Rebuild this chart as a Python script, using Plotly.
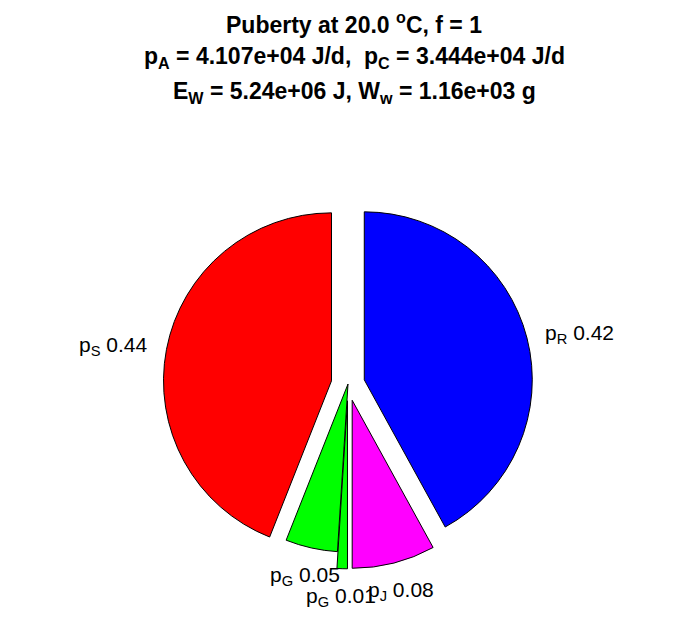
import numpy as np
import plotly.graph_objects as go

# ---- data ----
slice_labels = ["p<sub>R</sub>", "p<sub>J</sub>", "p<sub>G</sub>", "p<sub>G</sub>", "p<sub>S</sub>"]
slice_values = [0.42, 0.08, 0.01, 0.05, 0.44]
slice_colors = ["#0000ff", "#ff00ff", "#00ff00", "#00ff00", "#ff0000"]
slice_explode = [1, 1, 1, 0, 1]

title_lines = [
    "Puberty at 20.0 <sup>o</sup>C, f = 1",
    "p<sub>A</sub> = 4.107e+04 J/d,  p<sub>C</sub> = 3.444e+04 J/d",
    "E<sub>W</sub> = 5.24e+06 J, W<sub>w</sub> = 1.16e+03 g",
]

# ---- geometry / style ----
OFF = 8                    # page body margin
W, H = 696 - 2 * OFF, 618 - 2 * OFF
CX, CY = 348.0 - OFF, 384.0 - OFF   # pie centre in figure px (from top-left)
R = 168.0                  # pie radius in px
PULL = 0.1
FONT = "Liberation Sans, Arial, sans-serif"

half = R * (1 + PULL)
dom_x = [(CX - half) / W, (CX + half) / W]
dom_y = [1 - (CY + half) / H, 1 - (CY - half) / H]

fig = go.Figure()
fig.add_trace(go.Pie(
    values=slice_values,
    labels=[f"s{i}" for i in range(len(slice_values))],
    sort=False,
    direction="clockwise",
    rotation=0,
    pull=[PULL * e for e in slice_explode],
    marker=dict(colors=slice_colors, line=dict(color="black", width=1)),
    textinfo="none",
    hoverinfo="skip",
    showlegend=False,
    domain=dict(x=dom_x, y=dom_y),
))

annotations = []
total = sum(slice_values)
cum = 0.0
for lab, v, e in zip(slice_labels, slice_values, slice_explode):
    mid = (cum + v / 2) / total * 2 * np.pi
    cum += v
    dx, dy = np.sin(mid), np.cos(mid)
    ax_ = CX + e * PULL * R * dx
    ay_ = CY - e * PULL * R * dy
    if abs(dx) > 0.5:
        k = 1.1
        xanchor = "left" if dx > 0 else "right"
    else:
        k = 1.17
        xanchor = "center"
    px = ax_ + k * R * dx
    py = ay_ - k * R * dy
    annotations.append(dict(
        x=px / W, y=1 - py / H, xref="paper", yref="paper",
        text=f"{lab} {v:.2f}", showarrow=False,
        xanchor=xanchor, yanchor="middle",
        font=dict(family=FONT, size=21, color="black"),
    ))

title_x = 354 - OFF
title_y = [23 - OFF, 58 - OFF, 93 - OFF]
for line, ty in zip(title_lines, title_y):
    annotations.append(dict(
        x=title_x / W, y=1 - ty / H, xref="paper", yref="paper",
        text=f"<b>{line}</b>", showarrow=False,
        xanchor="center", yanchor="middle",
        font=dict(family=FONT, size=23, color="black"),
    ))

fig.update_layout(
    width=W, height=H,
    margin=dict(l=0, r=0, t=0, b=0),
    paper_bgcolor="white", plot_bgcolor="white",
    annotations=annotations,
)

fig.write_html("out.html")
